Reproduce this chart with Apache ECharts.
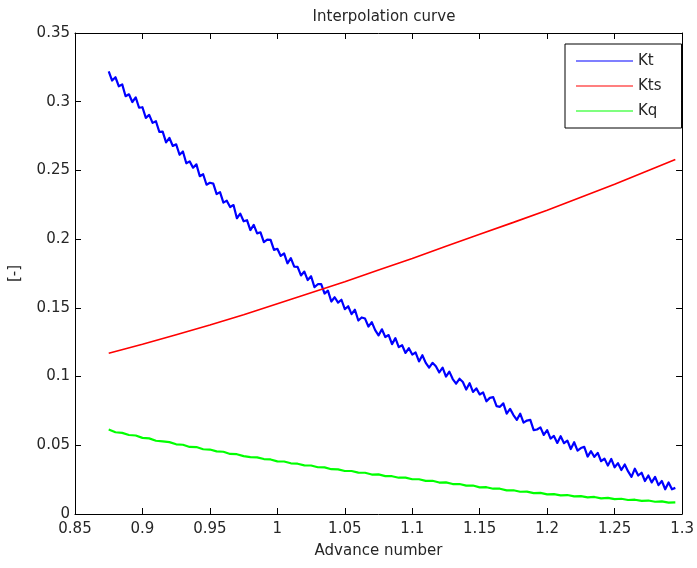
<!DOCTYPE html>
<html>
<head>
<meta charset="utf-8">
<title>Interpolation curve</title>
<script src="https://cdn.jsdelivr.net/npm/echarts@6/dist/echarts.min.js"></script>
<style>
  html, body { margin: 0; padding: 0; background: #fff; }
  #chart { width: 697px; height: 568px; }
</style>
</head>
<body>
<div id="chart"></div>
<script>
// Advance number grid for the thrust coefficient samples (step 0.0025)
const advanceJ = [
  0.875, 0.8775, 0.88, 0.8825, 0.885, 0.8875, 0.89, 0.8925, 0.895, 0.8975,
  0.9, 0.9025, 0.905, 0.9075, 0.91, 0.9125, 0.915, 0.9175, 0.92, 0.9225,
  0.925, 0.9275, 0.93, 0.9325, 0.935, 0.9375, 0.94, 0.9425, 0.945, 0.9475,
  0.95, 0.9525, 0.955, 0.9575, 0.96, 0.9625, 0.965, 0.9675, 0.97, 0.9725,
  0.975, 0.9775, 0.98, 0.9825, 0.985, 0.9875, 0.99, 0.9925, 0.995, 0.9975,
  1.0, 1.0025, 1.005, 1.0075, 1.01, 1.0125, 1.015, 1.0175, 1.02, 1.0225,
  1.025, 1.0275, 1.03, 1.0325, 1.035, 1.0375, 1.04, 1.0425, 1.045, 1.0475,
  1.05, 1.0525, 1.055, 1.0575, 1.06, 1.0625, 1.065, 1.0675, 1.07, 1.0725,
  1.075, 1.0775, 1.08, 1.0825, 1.085, 1.0875, 1.09, 1.0925, 1.095, 1.0975,
  1.1, 1.1025, 1.105, 1.1075, 1.11, 1.1125, 1.115, 1.1175, 1.12, 1.1225,
  1.125, 1.1275, 1.13, 1.1325, 1.135, 1.1375, 1.14, 1.1425, 1.145, 1.1475,
  1.15, 1.1525, 1.155, 1.1575, 1.16, 1.1625, 1.165, 1.1675, 1.17, 1.1725,
  1.175, 1.1775, 1.18, 1.1825, 1.185, 1.1875, 1.19, 1.1925, 1.195, 1.1975,
  1.2, 1.2025, 1.205, 1.2075, 1.21, 1.2125, 1.215, 1.2175, 1.22, 1.2225,
  1.225, 1.2275, 1.23, 1.2325, 1.235, 1.2375, 1.24, 1.2425, 1.245, 1.2475,
  1.25, 1.2525, 1.255, 1.2575, 1.26, 1.2625, 1.265, 1.2675, 1.27, 1.2725,
  1.275, 1.2775, 1.28, 1.2825, 1.285, 1.2875, 1.29, 1.2925, 1.295
];

// Thrust coefficient Kt (noisy interpolation)
const ktValues = [
  0.3220, 0.3154, 0.3178, 0.3112, 0.3126, 0.3040, 0.3054, 0.2998, 0.3032, 0.2956,
  0.2960, 0.2882, 0.2904, 0.2846, 0.2858, 0.2780, 0.2782, 0.2704, 0.2736, 0.2678,
  0.2690, 0.2614, 0.2638, 0.2552, 0.2566, 0.2520, 0.2544, 0.2458, 0.2472, 0.2396,
  0.2410, 0.2404, 0.2328, 0.2342, 0.2266, 0.2280, 0.2234, 0.2248, 0.2152, 0.2186,
  0.2130, 0.2138, 0.2066, 0.2104, 0.2042, 0.2050, 0.1978, 0.1996, 0.1994, 0.1922,
  0.1930, 0.1878, 0.1896, 0.1824, 0.1862, 0.1800, 0.1798, 0.1736, 0.1764, 0.1702,
  0.1730, 0.1651, 0.1672, 0.1673, 0.1604, 0.1625, 0.1546, 0.1577, 0.1538, 0.1559,
  0.1490, 0.1512, 0.1454, 0.1486, 0.1408, 0.1430, 0.1422, 0.1364, 0.1396, 0.1338,
  0.1300, 0.1344, 0.1288, 0.1302, 0.1236, 0.1280, 0.1214, 0.1228, 0.1172, 0.1206,
  0.1160, 0.1175, 0.1110, 0.1155, 0.1100, 0.1065, 0.1100, 0.1075, 0.1030, 0.1065,
  0.1000, 0.1036, 0.0982, 0.0948, 0.0984, 0.0960, 0.0906, 0.0952, 0.0888, 0.0914,
  0.0870, 0.0885, 0.0820, 0.0845, 0.0850, 0.0785, 0.0780, 0.0805, 0.0730, 0.0765,
  0.0720, 0.0685, 0.0730, 0.0665, 0.0680, 0.0685, 0.0610, 0.0615, 0.0630, 0.0575,
  0.0610, 0.0549, 0.0568, 0.0517, 0.0566, 0.0515, 0.0534, 0.0473, 0.0522, 0.0461,
  0.0480, 0.0489, 0.0418, 0.0457, 0.0416, 0.0445, 0.0384, 0.0403, 0.0352, 0.0401,
  0.0340, 0.0370, 0.0320, 0.0360, 0.0310, 0.0270, 0.0330, 0.0280, 0.0300, 0.0240,
  0.0280, 0.0230, 0.0270, 0.0210, 0.0240, 0.0180, 0.0230, 0.0180, 0.0190
];

// Torque coefficient Kq, sampled on every second grid point (step 0.005)
const kqValues = [
  0.0615, 0.0595, 0.0590, 0.0575, 0.0571, 0.0554,
  0.0550, 0.0533, 0.0529, 0.0523, 0.0507,
  0.0504, 0.0488, 0.0487, 0.0471, 0.0469,
  0.0456, 0.0453, 0.0437, 0.0435, 0.0421,
  0.0414, 0.0412, 0.0400, 0.0397, 0.0383,
  0.0382, 0.0369, 0.0366, 0.0354, 0.0353,
  0.0340, 0.0339, 0.0326, 0.0325, 0.0313,
  0.0313, 0.0301, 0.0300, 0.0287, 0.0288,
  0.0276, 0.0275, 0.0264, 0.0265, 0.0253,
  0.0253, 0.0241, 0.0242, 0.0229, 0.0230,
  0.0218, 0.0218, 0.0206, 0.0207, 0.0194,
  0.0195, 0.0184, 0.0184, 0.0172, 0.0173,
  0.0162, 0.0163, 0.0152, 0.0154, 0.0143,
  0.0145, 0.0135, 0.0138, 0.0128, 0.0130,
  0.0121, 0.0124, 0.0114, 0.0117, 0.0108,
  0.0111, 0.0102, 0.0104, 0.0095, 0.0098,
  0.0089, 0.0092, 0.0083, 0.0085
];

// Ship thrust Kts
const ktsJ = [0.875, 0.9, 0.925, 0.95, 0.975, 1.0, 1.025, 1.05, 1.075, 1.1,
              1.125, 1.15, 1.175, 1.2, 1.225, 1.25, 1.275, 1.295];
const ktsValues = [0.117, 0.1235, 0.1305, 0.1375, 0.145, 0.153, 0.161, 0.169, 0.1775, 0.186,
                   0.1948, 0.2035, 0.2122, 0.221, 0.2305, 0.240, 0.250, 0.258];

const seriesNames = ['Kt', 'Kts', 'Kq'];
const seriesColors = ['#0000ff', '#ff0000', '#00ff00'];

const kqJ = advanceJ.filter((_, i) => i % 2 === 0);
const pairs = (xs, ys) => xs.map((x, i) => [x, ys[i]]);

const FONT = 'DejaVu Sans';
const textColor = '#262626';

const chart = echarts.init(document.getElementById('chart'), null, { renderer: 'canvas' });

const xBase = { type: 'value', min: 0.85, max: 1.3, interval: 0.05 };
const yBase = { type: 'value', min: 0, max: 0.35, interval: 0.05 };
const axisLineStyle = { show: true, onZero: false, lineStyle: { color: '#000', width: 1 } };
const tickStyle = { show: true, inside: true, length: 6, lineStyle: { color: '#000', width: 1 } };

chart.setOption({
  animation: false,
  backgroundColor: '#fff',
  title: {
    text: 'Interpolation curve',
    left: 379, top: 5, textAlign: 'center',
    textStyle: { fontFamily: FONT, fontSize: 15, fontWeight: 'normal', color: textColor }
  },
  legend: {
    orient: 'vertical',
    left: 565, top: 44,
    padding: [9, 20, 9, 11],
    itemGap: 9,
    itemWidth: 57, itemHeight: 1,
    icon: 'rect',
    borderColor: '#000', borderWidth: 1, backgroundColor: '#fff',
    textStyle: { fontFamily: FONT, fontSize: 15, color: textColor, lineHeight: 16 },
    data: seriesNames
  },
  grid: { left: 74, right: 12, top: 33, bottom: 54, containLabel: false },
  xAxis: [
    Object.assign({}, xBase, {
      position: 'bottom',
      name: 'Advance number', nameLocation: 'middle', nameGap: 30,
      nameTextStyle: { fontFamily: FONT, fontSize: 15, color: textColor },
      axisLine: axisLineStyle, axisTick: tickStyle,
      axisLabel: { fontFamily: FONT, fontSize: 15, color: textColor, margin: 8 },
      splitLine: { show: false }
    }),
    Object.assign({}, xBase, {
      position: 'top',
      axisLine: axisLineStyle, axisTick: tickStyle,
      axisLabel: { show: false }, splitLine: { show: false }
    })
  ],
  yAxis: [
    Object.assign({}, yBase, {
      position: 'left',
      name: '[-]', nameLocation: 'middle', nameGap: 52, nameRotate: 90,
      nameTextStyle: { fontFamily: FONT, fontSize: 15, color: textColor },
      axisLine: axisLineStyle, axisTick: tickStyle,
      axisLabel: { fontFamily: FONT, fontSize: 15, color: textColor, margin: 5 },
      splitLine: { show: false }
    }),
    Object.assign({}, yBase, {
      position: 'right',
      axisLine: axisLineStyle, axisTick: tickStyle,
      axisLabel: { show: false }, splitLine: { show: false }
    })
  ],
  series: [
    {
      name: seriesNames[0], type: 'line', data: pairs(advanceJ, ktValues),
      showSymbol: false, symbol: 'none',
      lineStyle: { color: seriesColors[0], width: 2.2, join: 'round' }, itemStyle: { color: seriesColors[0] }
    },
    {
      name: seriesNames[1], type: 'line', data: pairs(ktsJ, ktsValues),
      showSymbol: false, symbol: 'none',
      lineStyle: { color: seriesColors[1], width: 1.6 }, itemStyle: { color: seriesColors[1] }
    },
    {
      name: seriesNames[2], type: 'line', data: pairs(kqJ, kqValues),
      showSymbol: false, symbol: 'none',
      lineStyle: { color: seriesColors[2], width: 2.2 }, itemStyle: { color: seriesColors[2] }
    }
  ]
});
</script>
</body>
</html>
